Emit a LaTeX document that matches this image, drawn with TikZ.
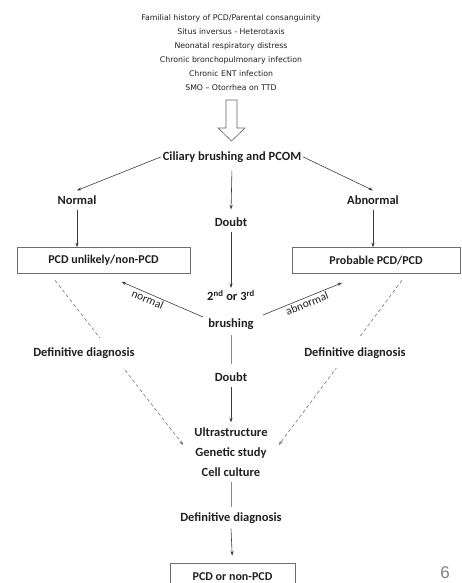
\documentclass[tikz,border=0pt]{standalone}
\usepackage{fontspec}
\setmainfont{Carlito}
\newfontfamily\symptomfont{DejaVu Sans}
\newfontfamily\pagefont{Liberation Sans}
\usetikzlibrary{arrows.meta}
\definecolor{linegray}{HTML}{3C3C3C}
\definecolor{textgray}{HTML}{202020}

\begin{document}
\begin{tikzpicture}[
  x=1pt,
  y=-1pt,
  label text/.style={
    font=\bfseries\fontsize{12.5}{14}\selectfont,
    text=textgray,
    inner xsep=2pt,
    inner ysep=5pt
  },
  result box/.style={
    label text,
    font=\bfseries\fontsize{12}{14}\selectfont,
    draw=linegray!75,
    line width=0.6pt,
    minimum height=26pt,
    inner sep=0pt
  },
  branch text/.style={
    font=\fontsize{11.5}{13}\selectfont,
    text=textgray,
    inner sep=1.5pt
  },
  symptom/.style={
    font=\symptomfont\fontsize{7.8}{9}\selectfont,
    text=textgray,
    inner sep=0pt
  },
  flow/.style={
    draw=linegray,
    line width=0.6pt,
    -{Stealth[length=4.5pt,width=3.2pt]}
  },
  plain flow/.style={
    draw=linegray!60,
    line width=0.6pt
  },
  dash flow/.style={
    flow,
    draw=linegray!70,
    dash pattern=on 3.5pt off 2.5pt
  },
]
\useasboundingbox (0,0) rectangle (462,583);

% clinical signs
\foreach \txt [count=\i] in {Familial history of PCD/Parental consanguinity,
    Situs inversus - Heterotaxis, Neonatal respiratory distress,
    Chronic bronchopulmonary infection, Chronic ENT infection,
    SMO – Otorrhea on TTD}
  \node[symptom] (sign\i) at (231,4+14*\i) {\txt};

\draw[linegray!80, fill=white, line width=0.6pt]
  (226,100) -- (237,100) -- (237,128) -- (245,128) -- (231.5,141)
  -- (218,128) -- (226,128) -- cycle;

\node[label text] (cbp) at (232,157) {Ciliary brushing and PCOM};
\node[label text] (normal) at (77,200) {Normal};
\node[label text] (abnormal) at (373,200) {Abnormal};
\node[label text] (doubt1) at (231,222) {Doubt};
\node[result box, minimum width=173pt] (lbox) at (103.5,260.5) {PCD unlikely/non-PCD};
\node[result box, minimum width=168pt] (rbox) at (376,260.5) {Probable PCD/PCD};
\node[label text, align=center, inner ysep=2pt] (brush) at (231,310)
  {2\textsuperscript{nd} or 3\textsuperscript{rd}\\[13pt]brushing};
\node[label text] (doubt2) at (231,377) {Doubt};
\node[label text, align=center, inner xsep=11pt, font=\bfseries\fontsize{12.5}{20}\selectfont]
  (tests) at (231,452) {Ultrastructure\\Genetic study\\Cell culture};
\node[label text] (ddfinal) at (231,518) {Definitive diagnosis};
\node[result box, minimum width=125pt, minimum height=28pt] (final) at (232.5,577) {PCD or non-PCD};
\node[font=\pagefont\fontsize{17}{19}\selectfont, text=gray, inner sep=0pt] (pagenum) at (445,573) {6};

\draw[flow] (cbp.west) -- (normal.north);
\draw[flow] (cbp.east) -- (abnormal.north);
\draw[flow, shorten <=3pt, shorten >=3pt] (cbp.south) -- (doubt1.north);
\draw[flow] (normal.south) -- (normal.south |- lbox.north);
\draw[flow] (abnormal.south) -- (abnormal.south |- rbox.north);
\draw[flow] (doubt1.south) -- (brush.north);
\draw[flow] ([xshift=-2pt,yshift=-7pt]brush.west) -- ([xshift=18pt,yshift=-8pt]lbox.south)
  node[branch text, pos=0.65, sloped, below] {normal};
\draw[flow] ([xshift=6pt,yshift=-5pt]brush.east) -- ([xshift=-34pt,yshift=-9pt]rbox.south)
  node[branch text, pos=0.53, sloped, below] {abnormal};
\draw[plain flow, shorten <=3pt, shorten >=3pt] (brush.south) -- (doubt2.north);
\draw[flow] (doubt2.south) -- (tests.north);
\draw[plain flow] (tests.south) -- (ddfinal.north);
\draw[flow, shorten >=7pt] (ddfinal.south) -- (final.north);

% dashed routes to the confirmation tests
\draw[dash flow] ([xshift=-48.5pt,yshift=-6.5pt]lbox.south) -- ([yshift=7pt]tests.west);
\draw[dash flow] ([xshift=26pt,yshift=-6.5pt]rbox.south) -- ([yshift=7pt]tests.east);
\node[label text, fill=white, inner ysep=10pt] (ddleft) at (84,353) {Definitive diagnosis};
\node[label text, fill=white, inner ysep=10pt] (ddright) at (355,353) {Definitive diagnosis};
\end{tikzpicture}
\end{document}
